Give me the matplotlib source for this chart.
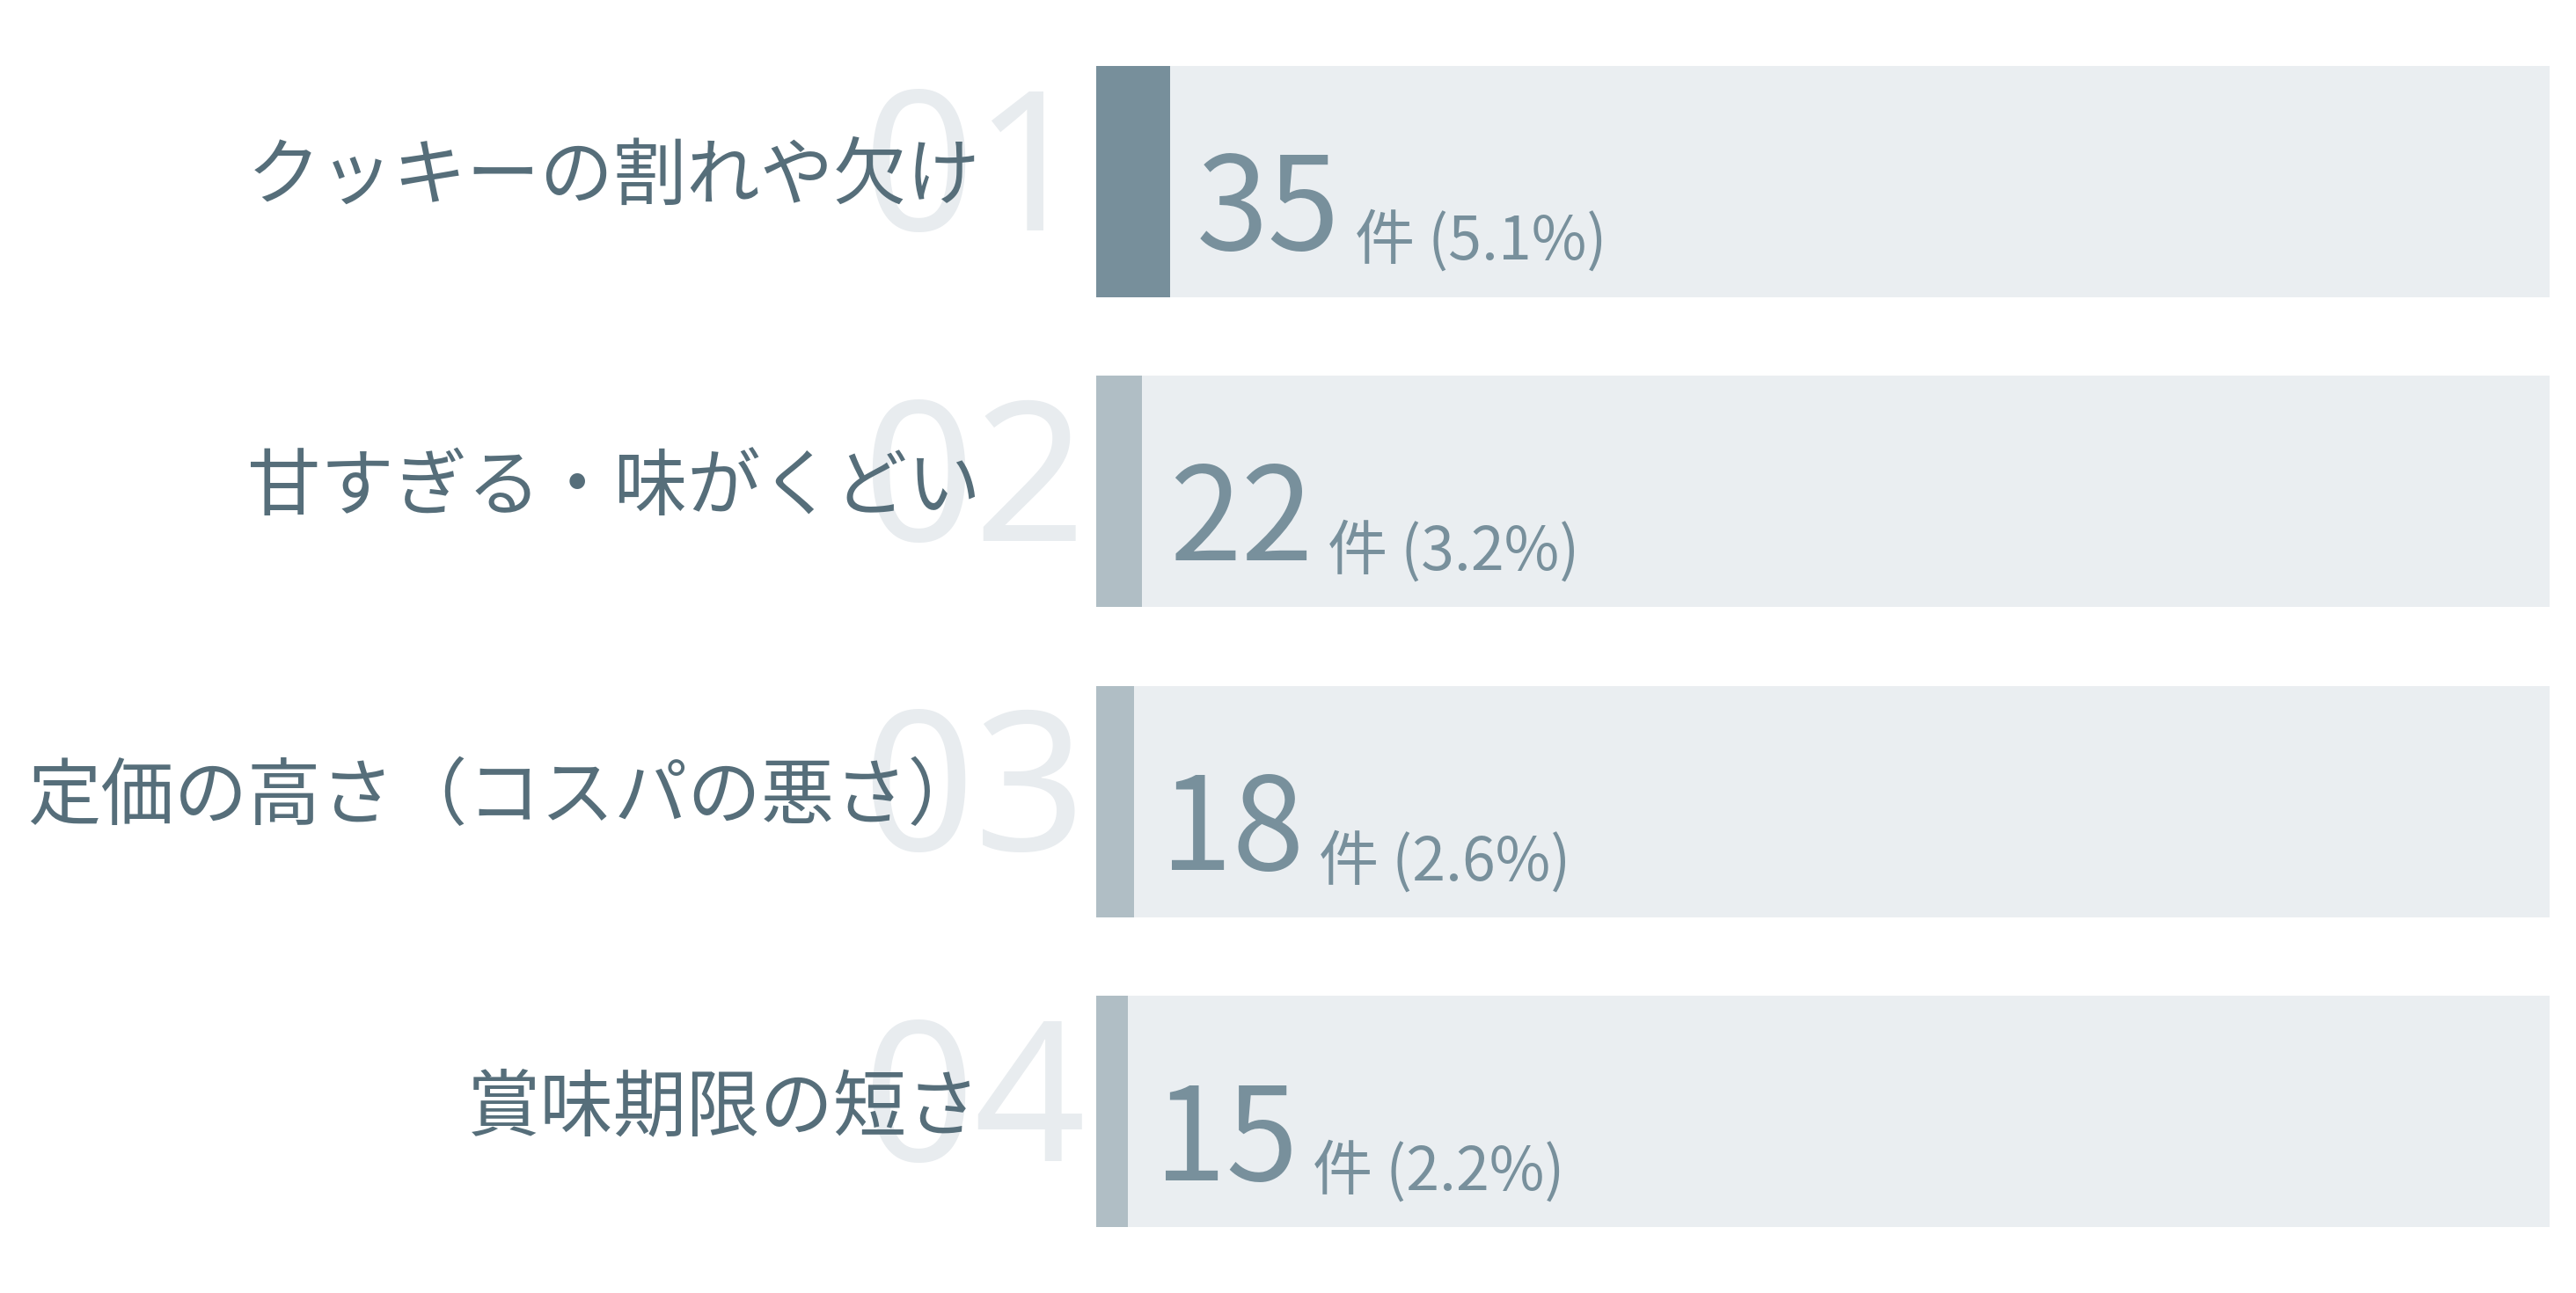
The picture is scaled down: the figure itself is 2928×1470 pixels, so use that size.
import matplotlib
matplotlib.use("Agg")
import matplotlib.pyplot as plt

plt.rcParams["font.family"] = ["Noto Sans CJK JP", "DejaVu Sans"]

labels = ["クッキーの割れや欠け", "甘すぎる・味がくどい", "定価の高さ（コスパの悪さ）", "賞味期限の短さ"]
ranks = ["01", "02", "03", "04"]
counts = [35, 22, 18, 15]
total = 688
unit = "件"

TRACK = "#eaeef1"
TOP = "#778f9b"
REST = "#b0bec5"
LABEL = "#566e7a"
NUM = "#78909c"
GHOST = "#e8ecef"

fig = plt.figure(figsize=(29.28, 14.70), dpi=100)
ax = fig.add_axes([667 / 1568, 0.0508, (1552 - 667) / 1568, 0.9492 - 0.0508])
ax.set_axis_off()

ys = list(range(len(counts)))
h = 0.746
ax.barh(ys, [total] * len(counts), height=h, color=TRACK, zorder=1)
ax.barh(ys, counts, height=h, color=[TOP] + [REST] * (len(counts) - 1), zorder=2)
ax.set_xlim(0, total)
ax.set_ylim(len(counts) - 1 + h / 2, -h / 2)

for y, lab, rk, c in zip(ys, labels, ranks, counts):
    # ghost rank number behind the label
    ax.annotate(rk, xy=(0, y), xytext=(-191, 1), textcoords="offset points",
                ha="left", va="center", fontsize=160, color=GHOST,
                family=["Noto Sans", "DejaVu Sans"], zorder=0,
                annotation_clip=False)
    ax.annotate(lab, xy=(0, y), xytext=(-94, 3), textcoords="offset points",
                ha="right", va="center", fontsize=60, color=LABEL, zorder=3,
                annotation_clip=False)
    num = ax.annotate(str(c), xy=(c, y), xytext=(22, -56), textcoords="offset points",
                      ha="left", va="baseline", fontsize=106, color=NUM, zorder=3)
    fig.canvas.draw()
    ax.annotate(f"{unit} ({c / total * 100:.1f}%)", xy=(1, y), xycoords=(num, "data"),
                xytext=(12, -64), textcoords="offset points",
                ha="left", va="baseline", fontsize=49, color=NUM, zorder=3)

fig.savefig("out.png", dpi=100, facecolor="white")
